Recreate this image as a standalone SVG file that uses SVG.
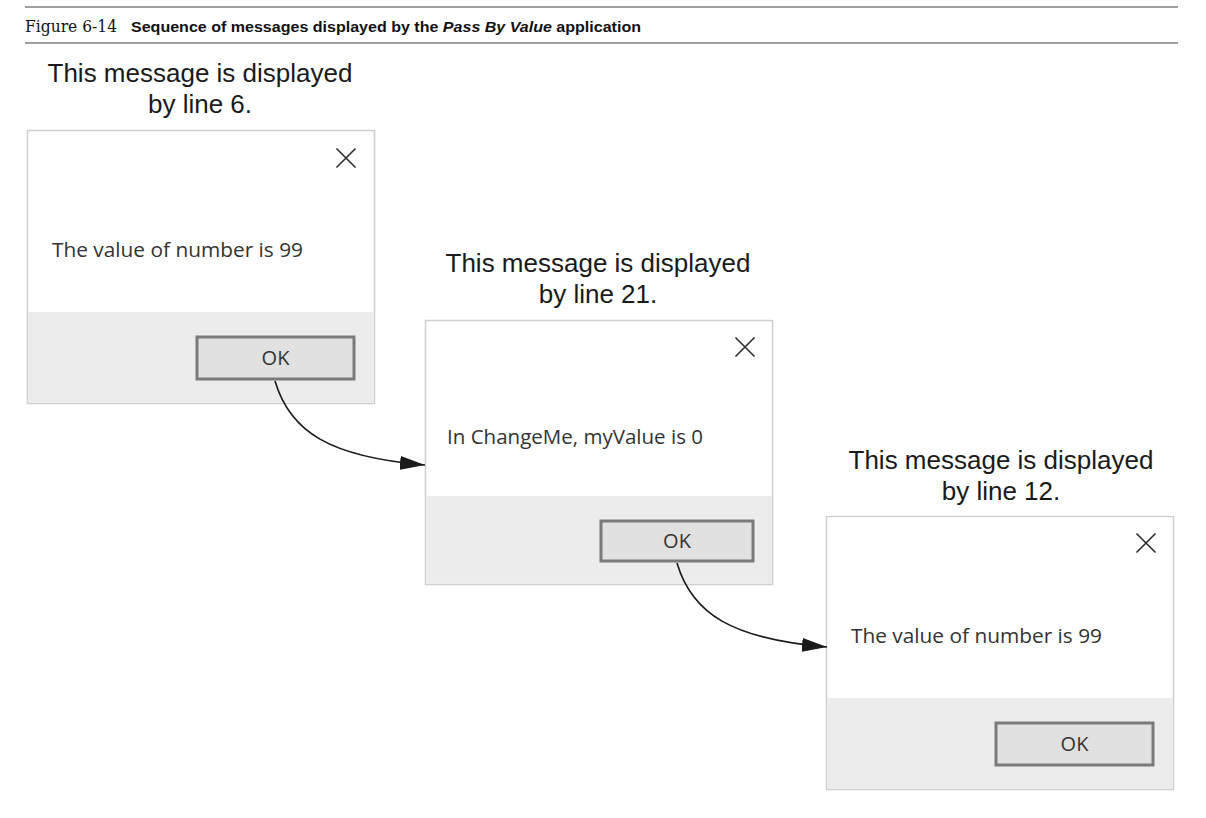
<svg xmlns="http://www.w3.org/2000/svg" width="1206" height="818" viewBox="0 0 1206 818">
<style>
.rule{stroke:#a0a0a0;stroke-width:2}
.win{fill:#ffffff;stroke:#cfcfcf;stroke-width:1.5}
.foot{fill:#ececec}
.btn{fill:#e1e1e1;stroke:#7a7a7a;stroke-width:3}
.x{stroke:#2b2b2b;stroke-width:1.6;fill:none}
.msg{font-family:"Open Sans","Liberation Sans",sans-serif;font-size:20px;fill:#333}
.ok{font-family:"Open Sans","Liberation Sans",sans-serif;font-size:20px;fill:#333;text-anchor:middle}
.lbl{font-family:"Liberation Sans",Arial,sans-serif;font-size:26px;fill:#1a1a1a;text-anchor:middle}
.conn{fill:none;stroke:#1a1a1a;stroke-width:1.6}
</style>
<defs>
<marker id="ah" markerWidth="26" markerHeight="14" refX="25" refY="7" orient="auto" markerUnits="userSpaceOnUse">
<path d="M0,0 L25,7 L0,14 Z" fill="#1a1a1a"/>
</marker>
</defs>
<rect width="1206" height="818" fill="#ffffff"/>
<g id="caption">
<line class="rule" x1="25" y1="7" x2="1178" y2="7"/>
<line class="rule" x1="25" y1="43" x2="1178" y2="43"/>
<text x="25" y="32" font-family="DejaVu Serif,serif" font-size="16" fill="#111" textLength="92" lengthAdjust="spacingAndGlyphs">Figure 6-14</text>
<text x="131" y="32" font-family="Liberation Sans,Arial,sans-serif" font-size="15.5" font-weight="bold" fill="#111" textLength="510" lengthAdjust="spacingAndGlyphs">Sequence of messages displayed by the <tspan font-style="italic">Pass By Value</tspan> application</text>
</g>
<g id="node1">
<text class="lbl" x="200" y="82">This message is displayed</text>
<text class="lbl" x="200" y="113">by line 6.</text>
<rect class="win" x="27.5" y="130.5" width="347" height="273"/>
<rect class="foot" x="28.25" y="312" width="345.5" height="90.75"/>
<path class="x" d="M336.5,148.5 L355.5,167.5 M355.5,148.5 L336.5,167.5"/>
<text class="msg" x="52" y="257" textLength="251" lengthAdjust="spacingAndGlyphs">The value of number is 99</text>
<rect class="btn" x="197" y="337" width="157" height="42"/>
<text class="ok" x="275.5" y="365">OK</text>
</g>
<g id="node2">
<text class="lbl" x="598" y="272">This message is displayed</text>
<text class="lbl" x="598" y="303">by line 21.</text>
<rect class="win" x="425.5" y="320.5" width="347" height="264"/>
<rect class="foot" x="426.25" y="496" width="345.5" height="87.75"/>
<path class="x" d="M735.5,337.5 L754.5,356.5 M754.5,337.5 L735.5,356.5"/>
<text class="msg" x="447" y="444" textLength="256" lengthAdjust="spacingAndGlyphs">In ChangeMe, myValue is 0</text>
<rect class="btn" x="601" y="521" width="152" height="40"/>
<text class="ok" x="677" y="548">OK</text>
</g>
<g id="node3">
<text class="lbl" x="1001" y="469">This message is displayed</text>
<text class="lbl" x="1001" y="500">by line 12.</text>
<rect class="win" x="826.5" y="516.5" width="347" height="273"/>
<rect class="foot" x="827.25" y="698" width="345.5" height="90.75"/>
<path class="x" d="M1136.5,533.5 L1155.5,552.5 M1155.5,533.5 L1136.5,552.5"/>
<text class="msg" x="851" y="643" textLength="251" lengthAdjust="spacingAndGlyphs">The value of number is 99</text>
<rect class="btn" x="996" y="723" width="157" height="42"/>
<text class="ok" x="1074.5" y="751">OK</text>
</g>
<g id="connectors">
<path class="conn" marker-end="url(#ah)" d="M275,381 C290,432 330,457 425,465"/>
<path class="conn" marker-end="url(#ah)" d="M677,563 C692,614 732,639 827,647"/>
</g>
</svg>
